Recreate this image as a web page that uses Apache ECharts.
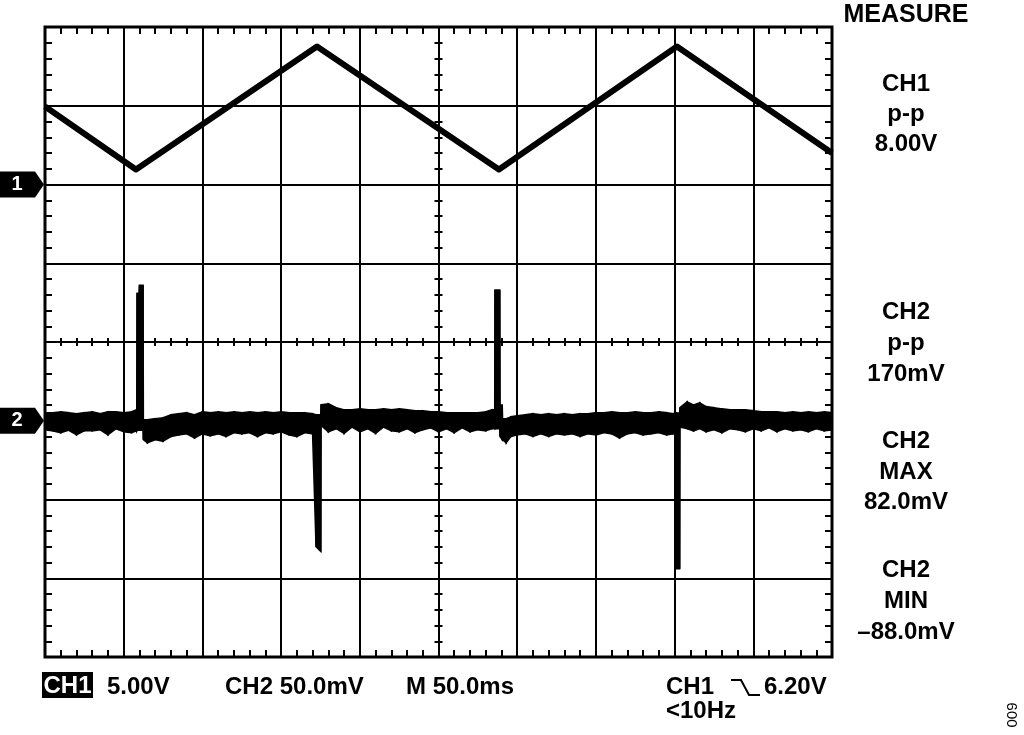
<!DOCTYPE html>
<html><head><meta charset="utf-8">
<script src="https://cdn.jsdelivr.net/npm/echarts@6/dist/echarts.min.js"></script>
<style>html,body{margin:0;padding:0;background:#fff}#c{width:1024px;height:735px}</style>
</head><body><div id="c"></div>
<script>
// ---- DATA ----
// time axis in ms (10 div x 50 ms)
const ch1Time  = [0, 57.8, 172.8, 288.4, 401.5, 500];
const ch1Volts = [4.95, 0.95, 8.76, 0.95, 8.76, 2.0];

// CH2 trace (mV): lower and upper envelope of the noisy trace, spikes included
const ch2Time = [
  0,5,10,15,20,25,30,35,40,45,50,55,58.3,
  58.5,59.8,60.0,62.3,
  62.5,65,70,75,80,85,90,95,100,105,110,115,120,125,130,135,140,145,150,155,160,165,170,
  172.2,175.2,175.4,
  180,185,190,195,200,205,210,215,220,225,230,235,240,245,250,255,260,265,270,275,280,284,
  285.7,285.9,288.9,289.1,290.5,
  290.7,293,296,300,305,310,315,320,325,330,335,340,345,350,355,360,365,370,375,380,385,390,395,399,
  400.7,400.9,403.2,403.4,
  408,412,416,420,425,430,435,440,445,450,455,460,465,470,475,480,485,490,495,500
];
const ch2Low = [
  -5.7,-6.4,-7.6,-6.0,-8.9,-6.4,-6.4,-5.7,-8.9,-5.1,-7.0,-7.6,-6.4,
  -6,-6,-6,-6,
  -12,-14,-12,-13,-10,-9,-8.3,-11,-8.3,-9.5,-8.3,-10,-7.6,-8.3,-7.6,-10,-7.6,-8.3,-7.0,-9,-10,-7.6,-8.3,
  -80,-83,-3,
  -7,-5,-8,-4,-7,-5,-8,-4,-6.4,-7,-5,-7.6,-5.7,-4.5,-7,-5,-7.6,-4.5,-7,-5.7,-6.4,-5.1,
  -5,-5,-5,-10,-12,
  -12,-14,-10,-9,-8.3,-10,-8.3,-10,-8.3,-9,-8.3,-10,-8.3,-9,-7.6,-8.3,-11,-8.3,-7.6,-9,-8.3,-7.6,-9,-8.3,
  -8,-94,-94,-4,
  -5,-6.4,-5,-7,-5.7,-7.6,-5.1,-5.7,-7,-5.1,-6.4,-4.5,-7,-5.1,-6.4,-5.7,-7,-5.1,-6.4,-5.7
];
const ch2High = [
  5.1,5.1,5.7,5.1,4.5,5.1,5.7,4.5,5.7,5.7,5.1,5.7,7.0,
  81,81,86,86,
  0.6,0.6,1.3,1.9,3.8,4.5,5.1,3.8,5.7,5.1,5.7,5.1,5.7,5.1,5.7,5.1,5.7,5.1,5.7,5.1,5.1,5.1,4.5,
  3.8,3.8,10.2,
  10.8,8.3,7,7,7.6,7,7,7.6,7,7.6,7,6.4,6.4,5.7,5.7,5.1,5.1,5.1,5.1,5.1,5.7,7,
  7,83,83,10,10,
  1.3,1.3,2.5,3.2,3.8,4.5,3.8,4.5,3.8,4.5,3.8,4.5,4.5,5.1,5.1,5.7,5.1,5.1,5.7,5.1,5.1,5.7,5.1,4.5,
  5,5,5,8.3,
  12,10,11.4,9,8.3,7.6,7,7,7,6.4,5.7,5.7,5.7,5.1,5.7,5.1,5.7,5.1,5.7,5.1
];

// Text
const measureTitle = 'MEASURE';
const measureBlocks = [
  ['CH1', 'p-p', '8.00V'],
  ['CH2', 'p-p', '170mV'],
  ['CH2', 'MAX', '82.0mV'],
  ['CH2', 'MIN', '\u201388.0mV']
];
const ch1ScaleTag = 'CH1';
const ch1Scale = '5.00V';
const ch2Scale = 'CH2 50.0mV';
const timeScale = 'M 50.0ms';
const trigSource = 'CH1';
const trigLevel = '6.20V';
const trigFreq = '<10Hz';
const figNumber = '009';
const chMarkers = ['1', '2'];

// ---- CHART ----
const chart = echarts.init(document.getElementById('c'), null, {renderer: 'canvas'});
const FONT = '"Liberation Sans", Arial, sans-serif';
const BLACK = '#000';

const baseAxis = {
  axisLabel: {show: false},
  axisLine: {show: false, onZero: false},
  splitLine: {show: false},
  axisTick: {show: true, inside: true, length: 7, lineStyle: {color: BLACK, width: 2}},
  minorTick: {show: true, splitNumber: 5, length: 7, lineStyle: {color: BLACK, width: 2}},
  minorSplitLine: {show: false}
};
function ax(extra) { return echarts.util.merge(echarts.util.clone(baseAxis), extra, true); }

const ch2Rows = ch2Time.map((t, i) => [t, ch2Low[i], ch2High[i]]);

const option = {
  animation: false,
  backgroundColor: '#fff',
  grid: {left: 45, top: 27, width: 787, height: 630, show: true, borderColor: BLACK, borderWidth: 3, backgroundColor: 'transparent'},
  xAxis: [
    ax({type: 'value', min: 0, max: 500, interval: 50, position: 'bottom',
        splitLine: {show: true, lineStyle: {color: BLACK, width: 2}}}),
    ax({type: 'value', min: 0, max: 500, interval: 50, position: 'top'}),
    ax({type: 'value', min: -5, max: 5, interval: 1, position: 'bottom',
        axisLine: {show: true, onZero: true, onZeroAxisIndex: 2, lineStyle: {color: BLACK, width: 2}},
        axisTick: {inside: true, length: 4}, minorTick: {length: 4}}),
    ax({type: 'value', min: -5, max: 5, interval: 1, position: 'bottom',
        axisLine: {show: false, onZero: true, onZeroAxisIndex: 2},
        axisTick: {inside: false, length: 4}, minorTick: {length: 4}})
  ],
  yAxis: [
    ax({type: 'value', min: -30, max: 10, interval: 5, position: 'left',
        splitLine: {show: true, lineStyle: {color: BLACK, width: 2}}}),
    ax({type: 'value', min: -150, max: 250, interval: 50, position: 'right'}),
    ax({type: 'value', min: -4, max: 4, interval: 1, position: 'left',
        axisLine: {show: true, onZero: true, onZeroAxisIndex: 2, lineStyle: {color: BLACK, width: 2}},
        axisTick: {inside: true, length: 4}, minorTick: {length: 4}}),
    ax({type: 'value', min: -4, max: 4, interval: 1, position: 'left',
        axisLine: {show: false, onZero: true, onZeroAxisIndex: 2},
        axisTick: {inside: false, length: 4}, minorTick: {length: 4}})
  ],
  series: [
    {
      name: 'CH1', type: 'line', xAxisIndex: 0, yAxisIndex: 0, z: 5,
      data: ch1Time.map((t, i) => [t, ch1Volts[i]]),
      symbol: 'none', lineStyle: {color: BLACK, width: 6, join: 'round'}
    },
    {
      name: 'CH2', type: 'custom', xAxisIndex: 0, yAxisIndex: 1, z: 5,
      data: ch2Rows,
      encode: {x: 0, y: [1, 2]},
      renderItem: function (params, api) {
        const i = params.dataIndex;
        if (i >= ch2Rows.length - 1) return null;
        const a = ch2Rows[i], b = ch2Rows[i + 1];
        const pts = [
          api.coord([a[0], a[2]]), api.coord([b[0], b[2]]),
          api.coord([b[0], b[1]]), api.coord([a[0], a[1]])
        ];
        return {type: 'polygon', shape: {points: pts},
                style: {fill: BLACK, stroke: BLACK, lineWidth: 1.5}};
      }
    }
  ]
};
chart.setOption(option);

// ---- annotations ----
function txt(str, x, y, size, opts) {
  opts = opts || {};
  return {
    type: 'text', x: x, y: y, z: 100, rotation: opts.rotation || 0,
    style: {
      text: str, fill: opts.fill || BLACK,
      font: (opts.weight || 'bold') + ' ' + size + 'px ' + FONT,
      align: opts.align || 'center', verticalAlign: 'middle'
    }
  };
}
const g = [];
g.push(txt(measureTitle, 906, 15, 25));
const blockY = [[84, 114, 144], [312, 343, 374], [441, 472, 502], [570, 601, 632]];
measureBlocks.forEach((b, i) => b.forEach((s, j) => g.push(txt(s, 906, blockY[i][j], 24))));

// bottom status line
g.push({type: 'rect', z: 99, shape: {x: 42, y: 672, width: 51, height: 26}, style: {fill: BLACK}});
g.push(txt(ch1ScaleTag, 67.5, 686, 24, {fill: '#fff'}));
g.push(txt(ch1Scale, 107, 687, 24, {align: 'left'}));
g.push(txt(ch2Scale, 225, 687, 24, {align: 'left'}));
g.push(txt(timeScale, 406, 687, 24, {align: 'left'}));
g.push(txt(trigSource, 666, 687, 24, {align: 'left'}));
g.push({type: 'polyline', z: 100, shape: {points: [[731, 680], [741, 680], [749, 695], [760, 695]]},
        style: {stroke: BLACK, lineWidth: 2, fill: null}});
g.push(txt(trigLevel, 764, 687, 24, {align: 'left'}));
g.push(txt(trigFreq, 666, 711, 24, {align: 'left'}));
g.push(txt(figNumber, 1013, 715, 15, {weight: 'normal', rotation: Math.PI / 2}));

// channel ground markers
[0, 1].forEach(i => {
  const yPix = chart.convertToPixel({yAxisIndex: i}, 0);
  g.push({type: 'polygon', z: 100,
    shape: {points: [[0, yPix - 13], [35, yPix - 13], [44, yPix], [35, yPix + 13], [0, yPix + 13]]},
    style: {fill: BLACK}});
  g.push(txt(chMarkers[i], 17, yPix, 20, {fill: '#fff'}));
});
chart.setOption({graphic: g});
</script>
</body></html>
